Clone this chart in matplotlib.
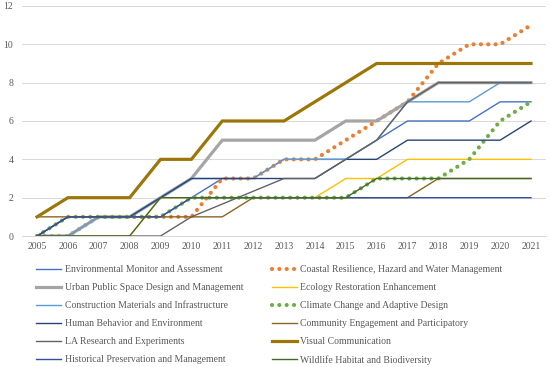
import numpy as np
import matplotlib
matplotlib.use("Agg")
from matplotlib import pyplot as plt

plt.rcParams['font.family'] = ['Liberation Serif', 'DejaVu Serif']

years = list(range(2005, 2022))

env_monitor = [0, 1, 1, 1, 1, 2, 3, 3, 4, 4, 4, 5, 6, 6, 6, 7, 7]
coastal = [0, 0, 1, 1, 1, 1, 3, 3, 4, 4, 5, 6, 7, 9, 10, 10, 11]
urban_space = [0, 0, 1, 1, 2, 3, 5, 5, 5, 5, 6, 6, 7, 8, 8, 8, 8]
ecology = [0, 0, 0, 0, 2, 2, 2, 2, 2, 2, 3, 3, 4, 4, 4, 4, 4]
construction = [0, 0, 1, 1, 2, 3, 3, 3, 4, 4, 4, 5, 7, 7, 7, 8, 8]
climate = [0, 1, 1, 1, 1, 2, 2, 2, 2, 2, 2, 3, 3, 3, 4, 6, 7]
human_behavior = [0, 1, 1, 1, 2, 3, 3, 3, 3, 3, 4, 4, 5, 5, 5, 5, 6]
community = [1, 1, 1, 1, 1, 1, 1, 2, 2, 2, 2, 2, 2, 3, 3, 3, 3]
la_research = [0, 0, 0, 0, 0, 1, None, None, 3, 3, 4, 5, 7, 8, 8, 8, 8]
visual = [1, 2, 2, 2, 4, 4, 6, 6, 6, 7, 8, 9, 9, 9, 9, 9, 9]
historical = [0, 1, 1, 1, 1, 2, 2, 2, 2, 2, 2, 2, 2, 2, 2, 2, 2]
wildlife = [0, 0, 0, 0, 2, 2, 2, 2, 2, 2, 2, 3, 3, 3, 3, 3, 3]

names = [
    "Environmental Monitor and Assessment",
    "Coastal Resilience, Hazard and Water Management",
    "Urban Public Space Design and Management",
    "Ecology Restoration Enhancement",
    "Construction Materials and Infrastructure",
    "Climate Change and Adaptive Design",
    "Human Behavior and Environment",
    "Community Engagement and Participatory",
    "LA Research and Experiments",
    "Visual Communication",
    "Historical Preservation and Management",
    "Wildlife Habitat and Biodiversity",
]
series = [env_monitor, coastal, urban_space, ecology, construction, climate,
          human_behavior, community, la_research, visual, historical, wildlife]
colors = ['#4472C4', '#ED7D31', '#A5A5A5', '#FFC000', '#5B9BD5', '#70AD47',
          '#264478', '#8A6420', '#636363', '#9C7608', '#34509A', '#43682B']
dotted = {1, 5}
thick = {2, 9}

fig = plt.figure(figsize=(5.5, 3.67), dpi=100)
ax = fig.add_axes([0.0393, 0.3569, 0.9542, 0.6268])

handles = []
for i, (name, vals, c) in enumerate(zip(names, series, colors)):
    x = np.array([yr for yr, v in zip(years, vals) if v is not None])
    y = np.array([v for v in vals if v is not None], dtype=float)
    if i in dotted:
        ln, = ax.plot(x, y, color=c, lw=3.0, linestyle=(0, (0.01, 1.75)),
                      dash_capstyle='round', label=name)
    elif i in thick:
        ln, = ax.plot(x, y, color=c, lw=2.3, solid_joinstyle='miter', label=name)
    else:
        ln, = ax.plot(x, y, color=c, lw=1.0, label=name)
    handles.append(ln)

ax.set_xlim(2004.5, 2021.5)
ax.set_ylim(0, 12)
ax.set_xticks(years)
ax.set_yticks(range(0, 13, 2))
ax.grid(axis='y', color='#D9D9D9', lw=0.75)
ax.set_axisbelow(True)
for s in ['top', 'right', 'left']:
    ax.spines[s].set_visible(False)
ax.spines['bottom'].set_color('#D9D9D9')
ax.spines['bottom'].set_linewidth(0.75)
ax.tick_params(length=0, labelsize=7, colors='#595959', pad=4)
ax.tick_params(axis='y', pad=6)

# excel fills legend row by row, matplotlib column by column
order = list(range(0, 12, 2)) + list(range(1, 12, 2))
fig.legend([handles[k] for k in order], [names[k] for k in order],
           loc='upper left', bbox_to_anchor=(0.057, 0.29), ncol=2,
           frameon=False, fontsize=7, handlelength=2.6, handletextpad=0.35,
           columnspacing=2.9, labelspacing=0.92, borderpad=0,
           labelcolor='#595959')

fig.savefig('out.png', dpi=100)
